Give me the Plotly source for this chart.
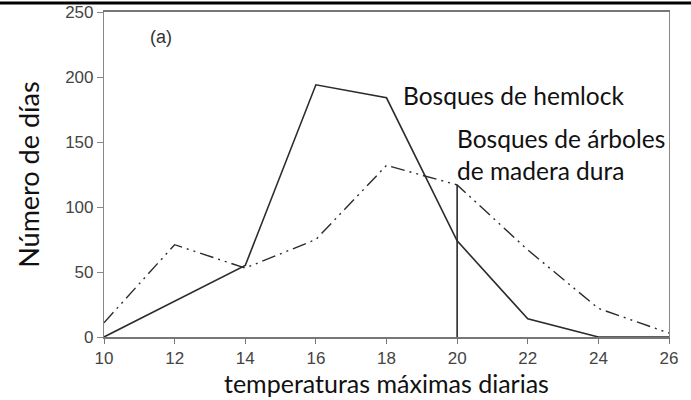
import plotly.graph_objects as go

# Data
hemlock_x = [10, 14, 16, 18, 20, 22, 24, 26]
hemlock_y = [0, 55, 194, 184, 74, 14, 0, 0]
hardwood_x = [10, 12, 14, 16, 18, 20, 22, 24, 26]
hardwood_y = [11, 71, 53, 75, 132, 117, 67, 22, 3]
marker_x = [20, 20]
marker_y = [0, 117]
x_ticks = [10, 12, 14, 16, 18, 20, 22, 24, 26]
y_ticks = [0, 50, 100, 150, 200, 250]

LINE = "#2b2b2b"
fig = go.Figure()
fig.add_trace(go.Scatter(x=hardwood_x, y=hardwood_y, mode="lines",
                         line=dict(color=LINE, width=1.4, dash="14px,5px,2px,5px,2px,5px"),
                         showlegend=False, hoverinfo="skip"))
fig.add_trace(go.Scatter(x=hemlock_x, y=hemlock_y, mode="lines",
                         line=dict(color=LINE, width=1.6),
                         showlegend=False, hoverinfo="skip"))
fig.add_trace(go.Scatter(x=marker_x, y=marker_y, mode="lines",
                         line=dict(color=LINE, width=1.6),
                         showlegend=False, hoverinfo="skip"))

fig.update_layout(
    width=691, height=400,
    margin=dict(l=104, r=22, t=12, b=63),
    paper_bgcolor="white", plot_bgcolor="white",
    xaxis=dict(range=[10, 26], tickvals=x_ticks, showgrid=False, zeroline=False,
               automargin=False,
               showline=True, linecolor="#777", linewidth=1.5, mirror=True,
               ticks="outside", ticklen=5, tickcolor="#777",
               tickfont=dict(family="Liberation Sans, Arial", size=17, color="#444")),
    yaxis=dict(range=[0, 250], tickvals=y_ticks, showgrid=False, zeroline=False,
               automargin=False,
               showline=True, linecolor="#888", linewidth=1.2, mirror=True,
               ticks="outside", ticklen=6, tickcolor="#888",
               tickfont=dict(family="Liberation Sans, Arial", size=17, color="#444")),
)

# axis titles as paper-anchored text
fig.add_annotation(xref="paper", yref="paper", x=0.5, y=-0.141, yanchor="middle",
                   text="temperaturas máximas diarias", showarrow=False,
                   font=dict(family="Lato, 'Open Sans', sans-serif", size=25, color="#111"))
fig.add_annotation(xref="paper", yref="paper", x=-0.134, y=0.5, xanchor="center",
                   text="Número de días", textangle=-90, showarrow=False,
                   font=dict(family="Lato, 'Open Sans', sans-serif", size=27, color="#111"))

ann_font = dict(family="Lato, 'Open Sans', sans-serif", size=24.5, color="#111")
fig.add_annotation(x=11.25, y=231, text="(a)", showarrow=False, xanchor="left",
                   font=dict(family="Liberation Sans, Arial", size=18, color="#333"))
fig.add_annotation(x=18.4, y=186, text="Bosques de hemlock", showarrow=False,
                   xanchor="left", font=ann_font)
fig.add_annotation(x=19.95, y=153, text="Bosques de árboles", showarrow=False,
                   xanchor="left", font=ann_font)
fig.add_annotation(x=19.95, y=128, text="de madera dura", showarrow=False,
                   xanchor="left", font=ann_font)

# black rule at top of the cropped page
fig.add_shape(type="line", xref="paper", yref="paper", x0=-0.2, x1=1.1,
              y0=1 + 9 / 325, y1=1 + 9 / 325, layer="above",
              line=dict(color="black", width=3))

fig.write_html("out.html", config={"displayModeBar": False},
               post_script="document.body.style.margin='0';")
